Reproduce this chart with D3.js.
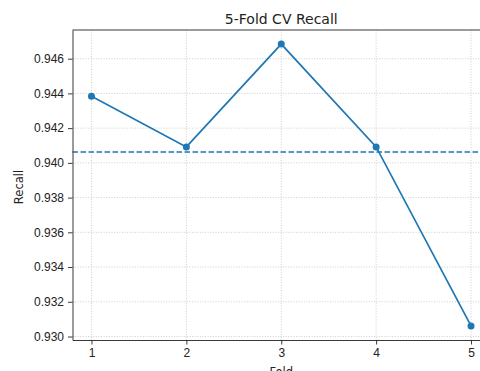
<!DOCTYPE html>
<html>
<head>
<meta charset="utf-8">
<script src="https://cdn.jsdelivr.net/npm/d3@7"></script>
<style>
  body { margin: 0; background: #fff; }
  svg { display: block; font-family: "DejaVu Sans", sans-serif; }
  .grid line { stroke: #c8c8c8; stroke-width: 0.9; stroke-dasharray: 1,1.6; }
  .axis text { font-size: 12px; fill: #222; }
  .axis path, .axis line { stroke: #222; stroke-width: 0.9; }
</style>
</head>
<body>
<svg width="480" height="371"></svg>
<script>
// data
var folds = [1, 2, 3, 4, 5];
var recall = [0.94384, 0.94092, 0.94684, 0.94092, 0.93061];
var yTicks = [0.930, 0.932, 0.934, 0.936, 0.938, 0.940, 0.942, 0.944, 0.946];
var title = "5-Fold CV Recall",
  xLabel = "Fold",
  yLabel = "Recall";

var svg = d3.select("svg"),
  margin = { top: 30, left: 72.5, right: -10, bottom: 31 },
  W = 480, H = 371,
  x0 = margin.left, x1 = W - margin.right,
  y0 = margin.top, y1 = H - margin.bottom;

var color = "#1f77b4";
var points = folds.map(function(f, i) { return { fold: f, value: recall[i] }; });

// matplotlib-like 5% margins
var xExt = d3.extent(folds), yExt = d3.extent(recall);
var xPad = (xExt[1] - xExt[0]) * 0.05, yPad = (yExt[1] - yExt[0]) * 0.05;
var x = d3.scaleLinear().domain([xExt[0] - xPad, xExt[1] + xPad]).range([x0, x1]);
var y = d3.scaleLinear().domain([yExt[0] - yPad, yExt[1] + yPad]).range([y1, y0]);

// grid
var grid = svg.append("g").attr("class", "grid");
grid.selectAll(".gx").data(folds).enter().append("line")
  .attr("x1", function(d) { return x(d); }).attr("x2", function(d) { return x(d); })
  .attr("y1", y0).attr("y2", y1);
grid.selectAll(".gy").data(yTicks).enter().append("line")
  .attr("x1", x0).attr("x2", x1)
  .attr("y1", function(d) { return y(d); }).attr("y2", function(d) { return y(d); });

// mean line
var meanVal = d3.mean(recall);
svg.append("line")
  .attr("x1", x0).attr("x2", x1)
  .attr("y1", y(meanVal)).attr("y2", y(meanVal))
  .attr("stroke", color).attr("stroke-width", 1.3)
  .attr("stroke-dasharray", "5.5,2.5");

// series
svg.append("path")
  .datum(points)
  .attr("fill", "none")
  .attr("stroke", color)
  .attr("stroke-width", 1.7)
  .attr("d", d3.line()
    .x(function(d) { return x(d.fold); })
    .y(function(d) { return y(d.value); }));

svg.selectAll(".dot").data(points).enter().append("circle")
  .attr("cx", function(d) { return x(d.fold); })
  .attr("cy", function(d) { return y(d.value); })
  .attr("r", 3.5)
  .attr("fill", color);

// axes
svg.append("g")
  .attr("class", "axis")
  .attr("transform", "translate(0," + y1 + ")")
  .call(d3.axisBottom(x).tickValues(folds).tickFormat(d3.format("d")).tickSize(4.5).tickSizeOuter(0).tickPadding(4));

svg.append("g")
  .attr("class", "axis")
  .attr("transform", "translate(" + x0 + ",0)")
  .call(d3.axisLeft(y).tickValues(yTicks).tickFormat(d3.format(".3f")).tickSize(4.5).tickSizeOuter(0).tickPadding(4));

// top spine
svg.append("line")
  .attr("x1", x0).attr("x2", x1)
  .attr("y1", y0).attr("y2", y0)
  .attr("stroke", "#222").attr("stroke-width", 0.9);

// title and labels
svg.append("text")
  .attr("x", (x0 + x1) / 2).attr("y", 23.5)
  .attr("text-anchor", "middle")
  .attr("font-size", 14).attr("fill", "#222")
  .text(title);

svg.append("text")
  .attr("x", (x0 + x1) / 2).attr("y", 376)
  .attr("text-anchor", "middle")
  .attr("font-size", 11.5).attr("fill", "#222")
  .text(xLabel);

svg.append("text")
  .attr("transform", "translate(22.5,187) rotate(-90)")
  .attr("text-anchor", "middle")
  .attr("font-size", 11.5).attr("fill", "#222")
  .text(yLabel);
</script>
</body>
</html>
